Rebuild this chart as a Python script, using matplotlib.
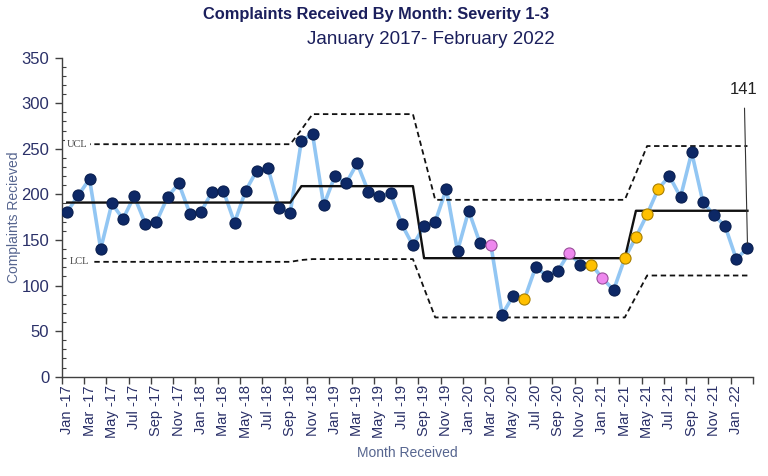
import matplotlib
matplotlib.use("Agg")
import matplotlib.pyplot as plt
import numpy as np
import pandas as pd

plt.rcParams['font.family'] = ['Liberation Sans', 'DejaVu Sans']

# ---- data ----
months = pd.date_range("2017-01-01", "2022-02-01", freq="MS")
month_labels = [f"{d.strftime('%b')} -{d.strftime('%y')}" for d in months]

complaints = [181, 199, 217, 140, 190, 173, 198, 168, 170, 197, 212, 179, 181, 203, 204, 169,
              204, 226, 229, 185, 180, 259, 266, 188, 220, 212, 234, 203, 198, 201, 167, 144,
              165, 170, 206, 138, 182, 147, 144, 68, 89, 85, 120, 111, 116, 136, 123, 123,
              108, 95, 130, 153, 178, 206, 220, 197, 246, 192, 177, 165, 129, 141]

# n = normal, p = pink signal, o = orange signal
point_type = (['n'] * 38 + ['p'] + ['n'] * 2 + ['o'] + ['n'] * 3 + ['p'] + ['n'] + ['o']
              + ['p'] + ['n'] + ['o'] * 4 + ['n'] * 8)

center_line = [191] * 21 + [209] * 11 + [130] * 19 + [182] * 11
ucl = [255] * 21 + [271] + [288] * 10 + [241] + [194] * 18 + [223] + [253] * 10
lcl = [126] * 21 + [128] + [129] * 10 + [97] + [65] * 18 + [88] + [111] * 10

last_label = "141"

# ---- styling ----
navy = '#0d2866'
text_navy = '#1b1f5c'
tick_col = '#2a3068'
label_col = '#56658f'
line_blue = '#92c6f3'
type_face = {'n': navy, 'p': '#ee88ee', 'o': '#ffc000'}
type_edge = {'n': '#0a1f50', 'p': '#9a4f9a', 'o': '#a87f00'}

fig = plt.figure(figsize=(7.68, 4.76), dpi=100)
ax = fig.add_axes([0.0803, 0.2086, 0.9002, 0.6704])

x = np.arange(len(complaints))

ax.plot(x, complaints, color=line_blue, lw=2.6, zorder=2)
ax.plot(x, center_line, color='#111111', lw=1.7, zorder=3)
ax.plot(x, ucl, color='#111111', lw=1.3, ls=(0, (3, 2)), zorder=3)
ax.plot(x, lcl, color='#111111', lw=1.3, ls=(0, (3, 2)), zorder=3)

for t in ['n', 'p', 'o']:
    idx = [i for i, pt in enumerate(point_type) if pt == t]
    ax.scatter(x[idx], np.array(complaints)[idx], s=64, color=type_face[t],
               edgecolors=type_edge[t], linewidths=0.8, zorder=4)

ax.text(0.0, ucl[0], "UCL", family='Liberation Serif', fontsize=7.5, color='#444444',
        ha='left', va='center', zorder=5,
        bbox=dict(facecolor='white', edgecolor='none', pad=1.5))
ax.text(0.2, lcl[0], "LCL", family='Liberation Serif', fontsize=7.5, color='#444444',
        ha='left', va='center', zorder=5,
        bbox=dict(facecolor='white', edgecolor='none', pad=1.5))

ax.annotate(last_label, xy=(x[-1], complaints[-1] + 5), xytext=(x[-1] - 0.3, 315),
            ha='center', va='center', fontsize=12, color='#222222',
            arrowprops=dict(arrowstyle='-', color='#333333', lw=0.8,
                            shrinkA=6, shrinkB=0), zorder=5)

ax.set_xlim(-0.5, len(complaints) - 0.5)
ax.set_ylim(0, 350)
ax.set_yticks(np.arange(0, 351, 50))
ax.set_yticks(np.arange(0, 351, 10), minor=True)
ax.tick_params(axis='y', which='major', direction='out', length=5, width=1,
               color='#404040', labelsize=12, labelcolor=tick_col, pad=4)
ax.tick_params(axis='y', which='minor', direction='in', length=3, width=0.8, color='#404040')

ax.set_xticks(x[::2])
ax.set_xticklabels(month_labels[::2], rotation=90)
ax.set_xticks(np.arange(-0.5, len(complaints), 2), minor=True)
ax.tick_params(axis='x', which='major', length=0, labelsize=10.5, labelcolor=tick_col, pad=6)
ax.tick_params(axis='x', which='minor', direction='out', length=5, width=1, color='#404040')

for s in ['top', 'right']:
    ax.spines[s].set_visible(False)
for s in ['left', 'bottom']:
    ax.spines[s].set_color('#404040')
    ax.spines[s].set_linewidth(1)

ax.set_ylabel("Complaints Recieved", fontsize=10, color=label_col, va='center')
ax.yaxis.set_label_coords((14 - 61.7) / 691, 0.5)
ax.set_xlabel("Month Received", fontsize=10, color=label_col, labelpad=6)

fig.text(376 / 768, 1 - 15 / 476, "Complaints Received By Month: Severity 1-3",
         ha='center', va='center', fontsize=11.8, fontweight='bold', color=text_navy)
fig.text(431 / 768, 1 - 40 / 476, "January 2017- February 2022",
         ha='center', va='center', fontsize=13.5, color=text_navy)

fig.savefig("out.png", dpi=100, facecolor='white')
